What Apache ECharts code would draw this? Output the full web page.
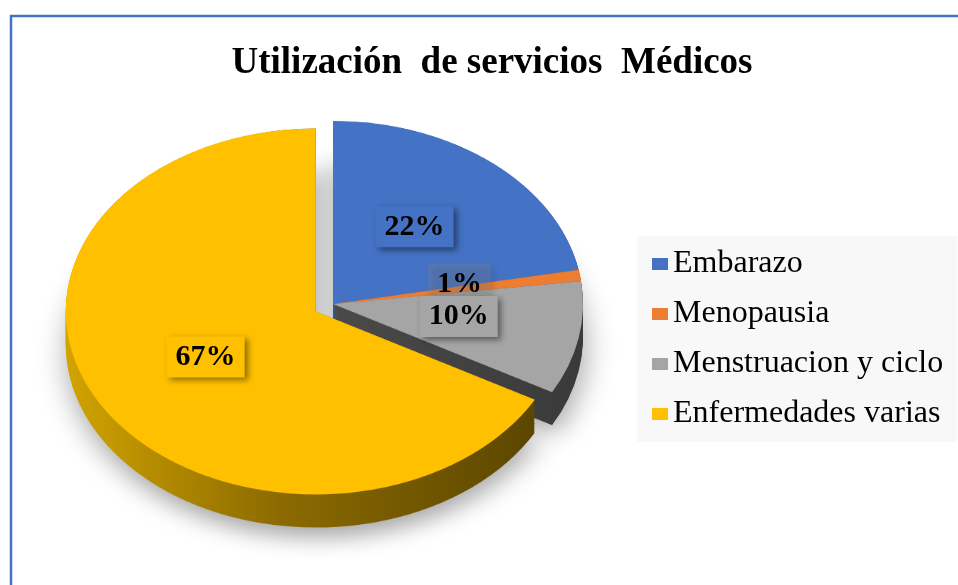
<!DOCTYPE html>
<html><head><meta charset="utf-8">
<script src="https://cdn.jsdelivr.net/npm/echarts@6/dist/echarts.min.js"></script>
<style>
html,body{margin:0;padding:0;background:#fff;overflow:hidden;width:958px;height:585px}
#pie{position:absolute;left:0;top:0;width:958px;height:800px;transform-origin:0 0;}
#main{position:absolute;left:0;top:0;width:958px;height:585px;}
</style></head><body>
<div id="pie"></div><div id="main"></div>
<script>
// ---- data ----
const titleText = 'Utilización  de servicios  Médicos';
const categories = ['Embarazo', 'Menopausia', 'Menstruacion y ciclo', 'Enfermedades varias'];
const values = [22, 1, 10, 67];
const explodedIndex = 3;

// ---- styles ----
const colors = ['#4472C4', '#ED7D31', '#A5A5A5', '#FFC000'];
const labelBg = ['#4472C4', 'rgba(140,140,140,0.22)', '#A5A5A5', '#FFC000'];
const SERIF = "'Liberation Serif', 'Times New Roman', 'DejaVu Serif', serif";
const RX = 250, S = 0.732, CX = 333, CY = 304, DEPTH = 33, EXPLODE = 20;
const CYP = CY / S, DEPTHP = DEPTH / S;

const G = echarts.graphic.LinearGradient;
const sideFills = [
  new G(0, 0, 1, 0, [{offset: 0, color: '#3558a0'}, {offset: 1, color: '#22406f'}]),
  new G(0, 0, 1, 0, [{offset: 0, color: '#b4601f'}, {offset: 1, color: '#8a4513'}]),
  new G(0, 0, 1, 0, [{offset: 0, color: '#4a4a4a'}, {offset: 1, color: '#3a3a3a'}]),
  new G(0, 0, 1, 0, [{offset: 0, color: '#d2a400'}, {offset: 0.45, color: '#8c6b00'}, {offset: 1, color: '#5c4600'}])
];

document.getElementById('pie').style.transform = 'scaleY(' + S + ')';

function pieData(fills) {
  return categories.map((n, i) => ({
    name: n, value: values[i], selected: i === explodedIndex,
    itemStyle: {color: fills[i]}
  }));
}

const pieSeries = [];
let first = true;
for (let k = DEPTHP; k > 0; k -= 2.5) {
  pieSeries.push({
    type: 'pie', silent: true, center: [CX, CYP + k], radius: RX,
    selectedMode: 'single', selectedOffset: EXPLODE,
    label: {show: false}, labelLine: {show: false}, emphasis: {disabled: true},
    itemStyle: first ? {shadowBlur: 30, shadowColor: 'rgba(0,0,0,0.35)', shadowOffsetY: 14, shadowOffsetX: 2} : {},
    data: pieData(sideFills)
  });
  first = false;
}
pieSeries.push({
  type: 'pie', silent: true, center: [CX, CYP], radius: RX,
  selectedMode: 'single', selectedOffset: EXPLODE,
  label: {show: false}, labelLine: {show: false}, emphasis: {disabled: true},
  data: pieData(colors)
});

const pieChart = echarts.init(document.getElementById('pie'), null, {renderer: 'canvas'});
pieChart.setOption({animation: false, series: pieSeries});

const chart = echarts.init(document.getElementById('main'), null, {renderer: 'canvas'});
chart.setOption({
  animation: false,
  backgroundColor: 'transparent',
  title: {
    text: titleText, left: 487, top: 40, textAlign: 'center',
    textStyle: {fontFamily: SERIF, fontSize: 37, fontWeight: 'bold', color: '#000'}
  },
  legend: {
    orient: 'vertical', left: 637, top: 236, backgroundColor: '#f8f8f8',
    padding: [12, 14, 12, 15], itemWidth: 16, itemHeight: 12, itemGap: 18, icon: 'rect',
    selectedMode: false,
    textStyle: {fontFamily: SERIF, fontSize: 32, color: '#000', lineHeight: 32},
    data: categories.map((n, i) => ({name: n, itemStyle: {color: colors[i]}}))
  },
  graphic: [{
    type: 'rect', silent: true,
    shape: {x: 11, y: 16, width: 1200, height: 1200},
    style: {fill: 'none', stroke: '#4472C4', lineWidth: 2.5}
  }],
  series: [{
    type: 'pie', silent: true, center: [CX, CY], radius: RX,
    selectedMode: 'single', selectedOffset: EXPLODE,
    emphasis: {disabled: true},
    itemStyle: {color: 'transparent'},
    labelLine: {show: false},
    label: {
      show: true, position: 'inside', formatter: '{d}%',
      fontFamily: SERIF, fontSize: 30, fontWeight: 'bold', color: '#000',
      padding: [6, 9, 5, 9],
      shadowBlur: 6, shadowColor: 'rgba(0,0,0,0.45)', shadowOffsetX: 3, shadowOffsetY: 3
    },
    labelLayout: function (p) {
      const r = p.labelRect;
      const cy = r.y + r.height / 2;
      return {dy: (cy - CY) * (S - 1) - 5};
    },
    data: categories.map((n, i) => ({
      name: n, value: values[i], selected: i === explodedIndex,
      label: {backgroundColor: labelBg[i]}
    }))
  }]
});
</script>
</body></html>
